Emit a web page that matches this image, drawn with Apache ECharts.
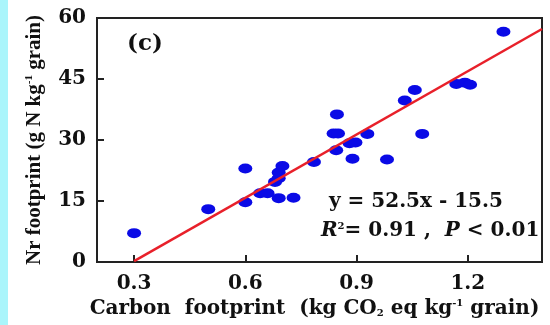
<!DOCTYPE html>
<html>
<head>
<meta charset="utf-8">
<script src="https://cdn.jsdelivr.net/npm/echarts@6/dist/echarts.min.js"></script>
<style>
  html, body { margin: 0; padding: 0; background: #fff; }
  #chart { width: 550px; height: 325px; }
</style>
</head>
<body>
<div id="chart"></div>
<script>
// carbon footprint (x) vs Nr footprint (y)
const carbonFp = [0.30, 0.50, 0.60, 0.60, 0.64, 0.66, 0.68, 0.69, 0.69, 0.70, 0.69, 0.73,
  0.785, 0.845, 0.838, 0.850, 0.847, 0.889, 0.881, 0.897, 0.929, 0.982, 1.030, 1.057,
  1.077, 1.169, 1.192, 1.206, 1.296];
const nrFp = [7.1, 13.0, 14.7, 23.0, 16.9, 16.9, 19.7, 20.6, 22.0, 23.6, 15.7, 15.8,
  24.6, 27.5, 31.6, 31.6, 36.3, 25.4, 29.2, 29.4, 31.5, 25.2, 39.7, 42.3,
  31.5, 43.8, 44.1, 43.6, 56.6];
// fitted line end points (y = 52.5x - 15.5)
const fitLineX = [0.30, 1.40];
const fitLineY = [0.2, 57.3];
const xTicks = [0.3, 0.6, 0.9, 1.2];

const serifW = "DejaVu Serif";
const ink = "#111";

const points = carbonFp.map((x, i) => [x, nrFp[i]]);
const fitData = fitLineX.map((x, i) => [x, fitLineY[i]]);

const chart = echarts.init(document.getElementById("chart"));
chart.setOption({
  animation: false,
  grid: {
    left: 97,
    right: 8,
    top: 18,
    bottom: 63,
    show: true,
    borderColor: "#222",
    borderWidth: 2,
    outerBoundsMode: "none",
  },
  xAxis: {
    type: "value",
    min: 0.2,
    max: 1.4,
    name: "{t|Carbon  footprint  (kg CO}{sub|2}{t| eq kg}{sup|-1}{t| grain)}",
    nameLocation: "middle",
    nameGap: 36,
    nameTextStyle: {
      fontFamily: serifW,
      fontWeight: "bold",
      fontSize: 20,
      color: ink,
      padding: [0, 10, 0, 0],
      rich: {
        t: { fontFamily: serifW, fontWeight: "bold", fontSize: 20, color: ink },
        sub: { fontFamily: serifW, fontWeight: "bold", fontSize: 10, color: ink, padding: [10, 0, 0, 0] },
        sup: { fontFamily: serifW, fontWeight: "bold", fontSize: 10, color: ink, padding: [0, 0, 10, 0] },
      },
    },
    axisLine: { show: true, lineStyle: { color: "#222", width: 2 } },
    axisTick: {
      show: true,
      inside: true,
      length: 7,
      customValues: xTicks,
      lineStyle: { color: "#222", width: 2 },
    },
    axisLabel: {
      customValues: xTicks,
      formatter: (v) => v.toFixed(1),
      margin: 12,
      fontFamily: serifW,
      fontWeight: "bold",
      fontSize: 20,
      color: ink,
    },
    splitLine: { show: false },
  },
  yAxis: {
    type: "value",
    min: 0,
    max: 60,
    interval: 15,
    name: "{t|Nr footprint (g N kg}{sup|-1}{t| grain)}",
    nameLocation: "middle",
    nameGap: 52,
    nameTextStyle: {
      fontFamily: "Liberation Serif",
      fontWeight: "bold",
      fontSize: 21,
      color: ink,
      rich: {
        t: { fontFamily: "Liberation Serif", fontWeight: "bold", fontSize: 21, color: ink },
        sup: { fontFamily: "Liberation Serif", fontWeight: "bold", fontSize: 11, color: ink, padding: [0, 0, 10, 0] },
      },
    },
    axisLine: { show: true, lineStyle: { color: "#222", width: 2 } },
    axisTick: { show: true, inside: true, length: 7, lineStyle: { color: "#222", width: 2 } },
    axisLabel: {
      margin: 11,
      fontFamily: serifW,
      fontWeight: "bold",
      fontSize: 20,
      color: ink,
    },
    splitLine: { show: false },
  },
  series: [
    {
      type: "scatter",
      data: points,
      symbol: "circle",
      symbolSize: [14, 10],
      itemStyle: { color: "#0a0ae6", opacity: 1 },
      z: 2,
    },
    {
      type: "line",
      data: fitData,
      showSymbol: false,
      lineStyle: { color: "#e8202a", width: 2.5 },
      z: 3,
    },
  ],
  graphic: [
    {
      type: "rect",
      shape: { x: 0, y: 0, width: 8, height: 325 },
      style: { fill: "#aaf5fb" },
      silent: true,
    },
    {
      type: "text",
      left: 127,
      top: 33,
      style: { text: "(c)", font: "bold 23px 'DejaVu Serif'", fill: ink },
    },
    {
      type: "text",
      left: 329,
      top: 192,
      style: { text: "y = 52.5x - 15.5", font: "bold 20px 'DejaVu Serif'", fill: ink },
    },
    {
      type: "text",
      left: 321,
      top: 221,
      style: {
        text: "{i|R}{sup|2}{n|= 0.91 ,  }{i|P}{n| < 0.01}",
        rich: {
          i: { fontFamily: serifW, fontWeight: "bold", fontStyle: "italic", fontSize: 20, fill: ink },
          n: { fontFamily: serifW, fontWeight: "bold", fontSize: 20, fill: ink },
          sup: { fontFamily: serifW, fontWeight: "bold", fontSize: 10, fill: ink, padding: [0, 0, 10, 0] },
        },
      },
    },
  ],
});
</script>
</body>
</html>
